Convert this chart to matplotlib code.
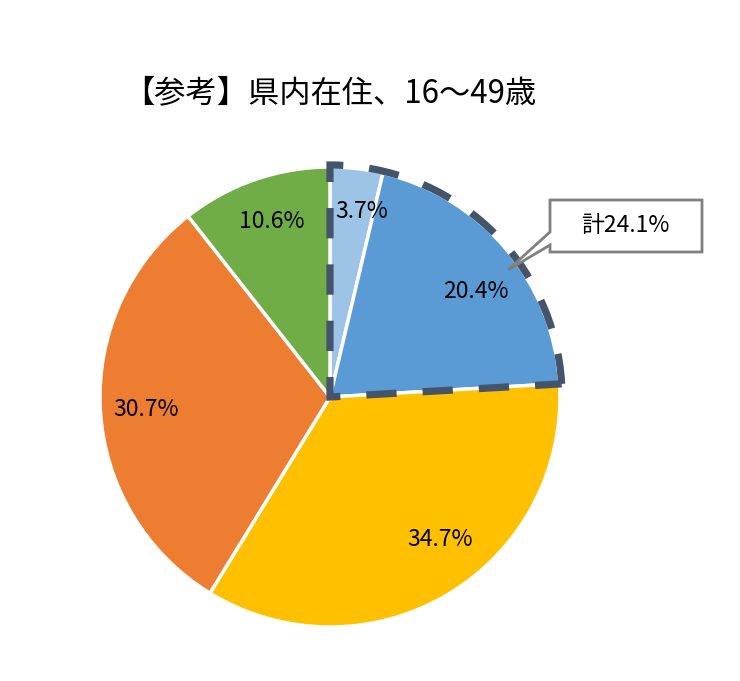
import matplotlib
matplotlib.use("Agg")
import matplotlib.pyplot as plt
from matplotlib.patches import Wedge, Polygon

plt.rcParams['font.family'] = ['Noto Sans CJK JP', 'DejaVu Sans']

title = "【参考】県内在住、16～49歳"
values = [3.7, 20.4, 34.7, 30.7, 10.6]
labels = ["3.7%", "20.4%", "34.7%", "30.7%", "10.6%"]
colors = ["#9DC3E6", "#5B9BD5", "#FFC000", "#ED7D31", "#70AD47"]
callout_text = "計24.1%"
group_total = 24.1

W, H = 740, 681
fig = plt.figure(figsize=(W / 100, H / 100), dpi=100)
ax = fig.add_axes([0, 0, 1, 1])

cx, cy, r = 330, H - 397, 230
ax.pie(values, colors=colors, startangle=90, counterclock=False,
       center=(cx, cy), radius=r, frame=True,
       wedgeprops=dict(edgecolor='white', linewidth=2.5))
ax.set_xlim(0, W)
ax.set_ylim(0, H)
ax.set_aspect('equal')
ax.axis('off')

# label positions (pixel coords)
label_pos = [(362, 212), (476, 292), (440, 540), (146, 409), (272, 221)]
for (x, y), t in zip(label_pos, labels):
    ax.text(x, H - y, t, ha='center', va='center', fontsize=16.5, color='black', zorder=8)

# dashed outline around group
theta2 = 90
theta1 = 90 - 360 * group_total / 100
outline = Wedge((cx, cy), r + 2, theta1, theta2, fill=False,
                edgecolor='#44546A', linewidth=5.2, linestyle=(0, (4.2, 3.6)),
                joinstyle='miter', zorder=5)
ax.add_patch(outline)

# callout
pts = [(550, 200), (702, 200), (702, 252), (550, 252), (550, 245), (508, 270), (550, 232)]
poly = Polygon([(x, H - y) for x, y in pts], closed=True, facecolor='white',
               edgecolor='#808080', linewidth=2, zorder=6)
ax.add_patch(poly)
ax.text(625, H - 226, callout_text, ha='center', va='center', fontsize=16.5, zorder=7)

ax.text(330, H - 93, title, ha='center', va='center', fontsize=22.5)

fig.savefig("out.png", dpi=100)
